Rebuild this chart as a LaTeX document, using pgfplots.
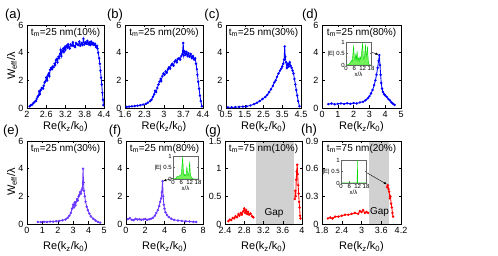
\documentclass[border=0pt]{standalone}
\usepackage{fontspec}
\setmainfont{Liberation Sans}
\usepackage{pgfplots}
\pgfplotsset{compat=1.18}
\usetikzlibrary{arrows.meta}
\definecolor{myblue}{rgb}{0,0,1}
\definecolor{mypurple}{rgb}{0.42,0.22,1}
\definecolor{myred}{rgb}{1,0,0}
\definecolor{mygreen}{rgb}{0,0.85,0}
\definecolor{mygreenfill}{rgb}{0.45,0.95,0.35}
\definecolor{gapgray}{rgb}{0.82,0.82,0.82}
\pgfplotsset{
  panel/.style={
    scale only axis, anchor=south west, height=83pt,
    enlargelimits=false,
    axis line style={line width=0.8pt},
    tick align=inside, major tick length=2.5pt,
    every tick/.style={line width=0.5pt, black},
    tick label style={font=\fontsize{9}{10}\selectfont},
    /pgf/number format/assume math mode=true,
    every axis title/.style={at={(0.5,1)}, anchor=north, yshift=-2pt, inner sep=1pt, font=\fontsize{10}{11}\selectfont},
    xlabel={Re(k\textsubscript{z}/k\textsubscript{0})},
  },
  toprow/.style={every axis x label/.style={at={(axis description cs:0.5,0)}, anchor=north, yshift=-10.5pt, font=\fontsize{11}{12}\selectfont}},
  botrow/.style={every axis x label/.style={at={(axis description cs:0.5,0)}, anchor=north, yshift=-14pt, font=\fontsize{11}{12}\selectfont}},
  dat/.style={line width=0.85pt, mark=*, mark size=0.75pt},
  inset/.style={scale only axis, anchor=south west, width=25pt, height=23pt,
    xmin=0, xmax=18, ymin=0, ymax=1, xtick={0,6,12,18}, ytick={0,0.5,1},
    tick align=inside, major tick length=1.5pt,
    axis line style={black!60, line width=0.5pt},
    every tick/.style={black!60},
    tick label style={font=\fontsize{6}{6}\selectfont, inner sep=1pt},
    /pgf/number format/assume math mode=true,
    axis background/.style={fill=white},
    xlabel={x/λ}, ylabel={|E|},
    every axis x label/.style={at={(axis description cs:0.5,0)}, anchor=north, yshift=-6.5pt, font=\fontsize{6}{6}\selectfont, inner sep=0pt},
    every axis y label/.style={at={(ticklabel cs:0.5)}, anchor=east, font=\fontsize{6}{6}\selectfont, inner sep=0.5pt}},
}
\begin{document}
\begin{tikzpicture}
\useasboundingbox (0,0) rectangle (498pt,256pt);
% ---------- (a)
\begin{axis}[panel, toprow, at={(27pt,148pt)}, width=77pt,
  xmin=2, xmax=4.4, ymin=0, ymax=6, xtick={2,2.6,3.2,3.8,4.4}, ytick={0,2,4,6},
  title={t\textsubscript{m}=25 nm(10\%)}]
\addplot[dat, myblue] coordinates {
(2.08,0.12)(2.12,0.2)(2.16,0.25)(2.2,0.35)(2.24,0.45)(2.28,0.5)(2.3,0.65)(2.33,0.8)
(2.36,0.9)(2.38,1.2)(2.4,1.0)(2.43,1.3)(2.46,1.45)(2.5,1.4)(2.52,1.6)(2.55,1.85)
(2.58,1.95)(2.6,2.2)(2.63,2.0)(2.65,2.35)(2.68,2.5)(2.7,2.3)(2.72,2.75)(2.75,2.9)
(2.78,2.8)(2.8,3.0)(2.83,2.95)(2.86,3.2)(2.88,3.1)(2.9,3.45)(2.93,3.55)(2.95,3.3)
(2.98,3.7)(3.0,3.6)(3.03,3.9)(3.05,4.2)(3.07,3.75)(3.1,4.1)(3.13,4.3)(3.15,4.05)
(3.18,4.4)(3.2,4.2)(3.23,4.5)(3.26,4.35)(3.28,4.6)(3.3,4.45)(3.33,4.3)(3.36,4.6)
(3.4,4.5)(3.43,4.75)(3.46,4.5)(3.5,4.4)(3.53,4.7)(3.56,4.6)(3.6,4.55)(3.63,4.8)
(3.66,4.5)(3.7,4.7)(3.73,4.55)(3.76,5.0)(3.79,4.6)(3.82,4.75)(3.85,4.65)(3.88,4.85)
(3.91,4.6)(3.94,4.75)(3.97,4.55)(4.0,4.8)(4.03,4.6)(4.06,4.7)(4.09,4.55)(4.12,4.65)
(4.15,4.4)(4.18,4.5)(4.2,4.3)(4.22,4.0)(4.25,3.6)(4.27,3.2)(4.29,2.7)(4.31,2.2)
(4.33,1.7)(4.35,1.1)(4.37,0.6)(4.38,0.2)};
\end{axis}
% ---------- (b)
\begin{axis}[panel, toprow, at={(125pt,148pt)}, width=78pt,
  xmin=1.6, xmax=4.4, ymin=0, ymax=6, xtick={1.6,2.3,3,3.7,4.4}, ytick={0,2,4,6},
  title={t\textsubscript{m}=25 nm(20\%)}]
\addplot[dat, myblue] coordinates {
(1.66,0.08)(1.75,0.1)(1.85,0.12)(1.95,0.14)(2.05,0.17)(2.15,0.2)(2.25,0.25)(2.35,0.3)
(2.42,0.38)(2.5,0.5)(2.55,0.6)(2.6,0.8)(2.65,1.0)(2.68,1.25)(2.72,1.15)(2.76,1.45)
(2.8,1.7)(2.84,1.9)(2.88,2.1)(2.9,1.95)(2.94,2.3)(2.98,2.5)(3.02,2.4)(3.06,2.65)
(3.1,2.55)(3.14,2.8)(3.18,2.95)(3.22,2.85)(3.26,3.1)(3.3,3.2)(3.34,3.05)(3.38,3.35)
(3.42,3.45)(3.46,3.3)(3.5,3.55)(3.54,3.6)(3.58,3.5)(3.62,3.75)(3.66,3.9)(3.69,4.7)
(3.71,3.8)(3.74,4.1)(3.78,3.85)(3.81,4.05)(3.85,3.75)(3.88,3.95)(3.92,3.7)(3.96,3.9)
(4.0,3.6)(4.04,3.75)(4.08,3.5)(4.12,3.6)(4.15,3.2)(4.18,2.8)(4.2,2.4)(4.23,1.9)
(4.26,1.4)(4.29,0.9)(4.32,0.5)(4.36,0.12)};
\end{axis}
% ---------- (c)
\begin{axis}[panel, toprow, at={(226pt,148pt)}, width=75pt,
  xmin=0.5, xmax=4.5, ymin=0, ymax=6, xtick={0.5,1.5,2.5,3.5,4.5}, ytick={0,2,4,6},
  title={t\textsubscript{m}=25 nm(30\%)}]
\addplot[dat, myblue] coordinates {
(0.6,0.05)(0.8,0.05)(1.0,0.06)(1.2,0.08)(1.4,0.1)(1.6,0.12)(1.8,0.18)(2.0,0.28)
(2.15,0.38)(2.3,0.5)(2.45,0.65)(2.6,0.8)(2.7,0.95)(2.8,1.15)(2.9,1.35)(3.0,1.6)
(3.08,1.85)(3.15,2.0)(3.22,2.25)(3.3,2.5)(3.38,2.7)(3.45,2.85)(3.5,3.0)(3.55,3.2)
(3.6,3.5)(3.63,4.45)(3.66,3.7)(3.7,3.3)(3.75,2.9)(3.8,3.2)(3.85,3.0)(3.9,3.3)
(3.95,3.05)(4.0,2.9)(4.05,2.7)(4.1,2.5)(4.15,2.1)(4.2,1.7)(4.25,1.3)(4.3,0.9)
(4.35,0.5)(4.42,0.12)};
\end{axis}
% ---------- (d)
\begin{axis}[panel, toprow, at={(322pt,148pt)}, width=79pt,
  xmin=0, xmax=5, ymin=0, ymax=6, xtick={0,1,2,3,4,5}, ytick={0,2,4,6},
  title={t\textsubscript{m}=25 nm(80\%)}]
\addplot[dat, myblue] coordinates {
(0.4,0.28)(0.6,0.32)(0.8,0.27)(1.0,0.3)(1.2,0.33)(1.4,0.29)(1.6,0.34)(1.8,0.3)
(2.0,0.36)(2.2,0.33)(2.4,0.4)(2.6,0.45)(2.75,0.55)(2.9,0.7)(3.0,0.85)(3.1,1.05)
(3.2,1.3)(3.3,1.65)(3.38,2.0)(3.45,2.4)(3.52,2.9)(3.58,3.4)(3.63,3.83)(3.67,3.1)
(3.71,2.4)(3.75,1.8)(3.8,1.4)(3.86,1.15)(3.93,1.0)(4.0,0.9)(4.1,0.8)(4.2,0.65)
(4.3,0.55)(4.4,0.4)(4.5,0.3)(4.6,0.22)};
\draw[-{Latex[length=3pt,width=2.5pt]}, line width=0.4pt] (axis cs:3.1,4.05) -- (axis cs:3.58,3.85);
\end{axis}
\begin{axis}[inset, at={(346pt,191pt)}]
\addplot[draw=mygreen, fill=mygreenfill, line width=0.4pt] coordinates {
(0,0)(2,0.02)(3,0.1)(4,0.2)(4.5,0.15)(5,0.5)(5.5,0.85)(6,0.3)(6.5,0.2)(7,0.45)
(7.5,0.25)(8,0.6)(8.5,0.2)(9,0.3)(9.5,0.15)(10,0.35)(10.5,0.25)(11,0.4)(11.5,0.7)
(12,0.95)(12.5,0.3)(13,0.25)(13.5,0.5)(14,0.9)(14.5,0.35)(15,0.5)(15.5,0.8)(16,0.2)
(16.5,0.05)(17,0)(18,0)} \closedcycle;
\end{axis}
% ---------- (e)
\begin{axis}[panel, botrow, at={(27pt,32pt)}, width=77pt,
  xmin=0, xmax=5, ymin=0, ymax=6, xtick={0,1,2,3,4,5}, ytick={0,2,4,6},
  title={t\textsubscript{m}=25 nm(30\%)}]
\addplot[dat, mypurple] coordinates {
(0.7,0.15)(0.9,0.14)(1.1,0.16)(1.3,0.15)(1.5,0.18)(1.7,0.17)(1.9,0.2)(2.1,0.22)
(2.3,0.27)(2.5,0.33)(2.65,0.45)(2.75,0.6)(2.85,0.8)(2.92,1.1)(3.0,1.4)(3.05,1.2)
(3.1,1.55)(3.15,1.35)(3.2,1.6)(3.25,1.8)(3.3,1.7)(3.35,2.0)(3.4,2.1)(3.45,2.3)
(3.5,2.2)(3.55,2.45)(3.6,2.6)(3.64,4.0)(3.67,3.0)(3.7,2.4)(3.75,2.0)(3.8,1.6)
(3.88,1.25)(3.95,1.0)(4.05,0.75)(4.15,0.55)(4.3,0.38)(4.45,0.25)(4.6,0.15)(4.75,0.1)};
\end{axis}
% ---------- (f)
\begin{axis}[panel, botrow, at={(126pt,32pt)}, width=77pt,
  xmin=0, xmax=8, ymin=0, ymax=6, xtick={0,2,4,6,8}, ytick={0,2,4,6},
  title={t\textsubscript{m}=25 nm(80\%)}]
\addplot[dat, mypurple] coordinates {
(0.2,0.35)(0.4,0.42)(0.6,0.3)(0.8,0.28)(1.0,0.38)(1.2,0.32)(1.4,0.35)(1.6,0.3)
(1.8,0.33)(2.0,0.36)(2.2,0.3)(2.4,0.34)(2.6,0.38)(2.8,0.45)(3.0,0.6)(3.15,0.8)
(3.3,1.0)(3.45,1.3)(3.55,1.6)(3.65,1.85)(3.72,2.3)(3.8,3.1)(3.86,2.0)(3.93,1.4)
(4.0,1.1)(4.1,0.85)(4.25,0.65)(4.45,0.5)(4.7,0.38)(5.0,0.3)(5.4,0.25)(5.8,0.22)
(6.2,0.2)(6.6,0.18)(7.0,0.16)(7.3,0.15)};
\draw[-{Latex[length=3pt,width=2.5pt]}, line width=0.4pt] (axis cs:4.9,3.3) -- (axis cs:3.88,3.12);
\end{axis}
\begin{axis}[inset, at={(173pt,77pt)}]
\addplot[draw=mygreen, fill=mygreenfill, line width=0.4pt] coordinates {
(0,0)(2,0.02)(3,0.1)(4,0.12)(5,0.15)(6,0.2)(6.5,0.6)(7,0.95)(7.5,0.3)(8,0.15)
(8.5,0.2)(9,0.15)(9.5,0.2)(10,0.55)(10.5,0.2)(11,0.15)(11.5,0.3)(12,0.75)(12.5,0.2)
(13,0.1)(14,0.02)(15,0)(18,0)} \closedcycle;
\end{axis}
% ---------- (g)
\begin{axis}[panel, botrow, at={(225pt,32pt)}, width=77pt, axis on top,
  xmin=2.4, xmax=4.0, ymin=0, ymax=1.5, xtick={2.4,2.8,3.2,3.6,4}, ytick={0,0.5,1,1.5},
  title={t\textsubscript{m}=75 nm(10\%)}]
\fill[gapgray] (axis cs:3.05,0) rectangle (axis cs:3.83,1.5);
\node[font=\fontsize{10}{11}\selectfont] at (axis cs:3.42,0.2) {Gap};
\addplot[dat, myred] coordinates {
(2.47,0.05)(2.5,0.08)(2.53,0.07)(2.56,0.11)(2.59,0.1)(2.62,0.14)(2.65,0.12)(2.68,0.18)
(2.7,0.15)(2.73,0.2)(2.75,0.17)(2.78,0.23)(2.8,0.28)(2.82,0.2)(2.84,0.25)(2.86,0.18)
(2.88,0.22)(2.9,0.17)(2.93,0.19)(2.96,0.14)(2.99,0.12)};
\addplot[dat, myred] coordinates {
(3.85,0.45)(3.86,0.6)(3.87,0.5)(3.88,0.8)(3.89,0.95)(3.9,1.07)(3.91,0.9)(3.92,0.7)
(3.93,0.55)(3.94,0.4)(3.95,0.3)(3.96,0.15)(3.97,0.1)};
\end{axis}
% ---------- (h)
\begin{axis}[panel, botrow, at={(322pt,32pt)}, width=79pt, axis on top,
  xmin=1.8, xmax=4.2, ymin=0, ymax=0.9, xtick={1.8,2.4,3,3.6,4.2}, ytick={0,0.3,0.6,0.9},
  title={t\textsubscript{m}=75 nm(20\%)}]
\fill[gapgray] (axis cs:3.22,0) rectangle (axis cs:3.83,0.9);
\node[font=\fontsize{10}{11}\selectfont] at (axis cs:3.55,0.13) {Gap};
\addplot[dat, myred] coordinates {
(1.98,0.06)(2.05,0.07)(2.12,0.06)(2.2,0.08)(2.3,0.08)(2.4,0.09)(2.5,0.1)(2.6,0.1)
(2.7,0.11)(2.8,0.12)(2.9,0.11)(2.95,0.14)(3.0,0.13)(3.05,0.15)(3.1,0.12)(3.15,0.13)(3.2,0.12)};
\addplot[dat, myred] coordinates {
(3.78,0.4)(3.8,0.42)(3.82,0.38)(3.84,0.35)(3.86,0.28)(3.88,0.3)(3.9,0.22)(3.92,0.18)
(3.94,0.12)(3.96,0.08)};
\draw[-{Latex[length=3pt,width=2.5pt]}, line width=0.4pt] (axis cs:3.14,0.56) -- (axis cs:3.77,0.43);
\end{axis}
\begin{axis}[inset, at={(341pt,73pt)}]
\addplot[draw=mygreen, line width=0.6pt] coordinates {
(0,0)(11.7,0)(11.8,1)(11.9,0)(18,0)};
\end{axis}
% ---------- labels
\node[font=\fontsize{13}{14}\selectfont] at (13pt,241pt) {(a)};
\node[font=\fontsize{13}{14}\selectfont] at (115pt,241pt) {(b)};
\node[font=\fontsize{13}{14}\selectfont] at (212pt,241pt) {(c)};
\node[font=\fontsize{13}{14}\selectfont] at (310pt,241pt) {(d)};
\node[font=\fontsize{13}{14}\selectfont] at (11pt,125pt) {(e)};
\node[font=\fontsize{13}{14}\selectfont] at (115pt,125pt) {(f)};
\node[font=\fontsize{13}{14}\selectfont] at (213pt,125pt) {(g)};
\node[font=\fontsize{13}{14}\selectfont] at (309pt,126pt) {(h)};
\node[rotate=90, font=\fontsize{11}{12}\selectfont] at (12pt,190pt) {W\textsubscript{eff}/λ};
\node[rotate=90, font=\fontsize{11}{12}\selectfont] at (12pt,74pt) {W\textsubscript{eff}/λ};
\end{tikzpicture}
\end{document}
